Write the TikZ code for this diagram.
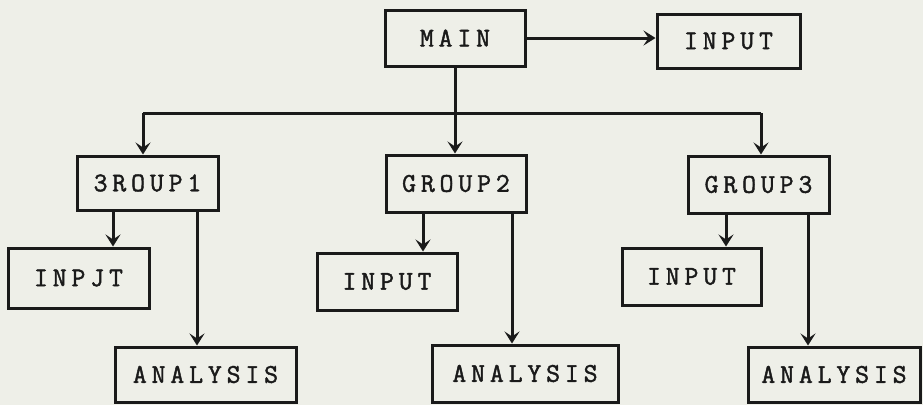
\documentclass[tikz,border=0pt]{standalone}
\usepackage{fontspec}
\newfontfamily\boxfont[LetterSpace=18,FakeBold=1.6]{Latin Modern Mono}
\usetikzlibrary{arrows.meta}
\definecolor{paper}{HTML}{EEEFE8}
\definecolor{ink}{HTML}{1A1A1A}
\tikzset{
  blk/.style={draw=ink, line width=3pt, rectangle, inner sep=0pt,
    font=\boxfont\fontsize{27}{27}\selectfont, text=ink},
  arr/.style={draw=ink, line width=3pt,
    -{Stealth[length=12pt,width=15pt,inset=5pt]}},
  wire/.style={draw=ink, line width=3pt}
}
\begin{document}
\begin{tikzpicture}[x=1pt,y=-1pt]
  % canvas
  \fill[paper] (0,0) rectangle (923,405);
  \useasboundingbox (0,0) rectangle (923,405);

  % boxes
  \node[blk, minimum width=140pt, minimum height=56pt] (main)   at (455,38)    {MAIN};
  \node[blk, minimum width=143pt, minimum height=54pt] (input0) at (728.5,41)  {INPUT};

  \node[blk, minimum width=141pt, minimum height=54pt] (group1) at (147.5,183) {3ROUP1};
  \node[blk, minimum width=140pt, minimum height=57pt] (group2) at (456,183.5) {GROUP2};
  \node[blk, minimum width=141pt, minimum height=57pt] (group3) at (758.5,184.5) {GROUP3};

  \node[blk, minimum width=141pt, minimum height=60pt] (input1) at (78.5,278)  {INPJT};
  \node[blk, minimum width=140pt, minimum height=57pt] (input2) at (387,281.5) {INPUT};
  \node[blk, minimum width=139pt, minimum height=57pt] (input3) at (691.5,276.5) {INPUT};

  \node[blk, minimum width=181pt, minimum height=55pt] (anal1) at (205.5,374.5) {ANALYSIS};
  \node[blk, minimum width=186pt, minimum height=57pt] (anal2) at (525,373.5)   {ANALYSIS};
  \node[blk, minimum width=172pt, minimum height=55pt] (anal3) at (834,374.5)   {ANALYSIS};

  % MAIN calls INPUT
  \draw[arr] (main.east) -- (main.east -| input0.west);

  % distribution bus to the three groups
  \coordinate (busL) at (143,113);
  \coordinate (busR) at (761,113);
  \draw[wire] (busL) -- (busR);
  \draw[arr] (main.south) -- (main.south |- group2.north);
  \draw[arr] (busL) -- (busL |- group1.north);
  \draw[arr] (busR) -- (busR |- group3.north);

  % each group calls its INPUT and ANALYSIS
  \draw[arr] ([xshift=-34.5pt]group1.south) -- ([xshift=-34.5pt]group1.south |- input1.north);
  \draw[arr] ([xshift=-33pt]group2.south)   -- ([xshift=-33pt]group2.south |- input2.north);
  \draw[arr] ([xshift=-32.5pt]group3.south) -- ([xshift=-32.5pt]group3.south |- input3.north);

  \draw[arr] ([xshift=49.5pt]group1.south) -- ([xshift=49.5pt]group1.south |- anal1.north);
  \draw[arr] ([xshift=56pt]group2.south)   -- ([xshift=56pt]group2.south |- anal2.north);
  \draw[arr] ([xshift=49.5pt]group3.south) -- ([xshift=49.5pt]group3.south |- anal3.north);
\end{tikzpicture}
\end{document}
